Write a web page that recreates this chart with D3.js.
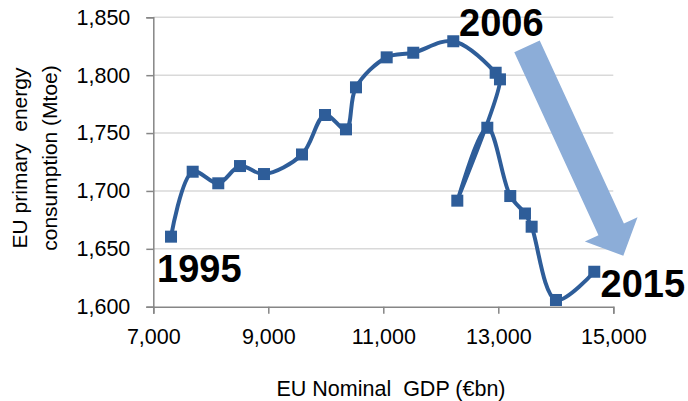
<!DOCTYPE html>
<html>
<head>
<meta charset="utf-8">
<script src="https://cdn.jsdelivr.net/npm/d3@7"></script>
<style>
  body { margin: 0; background: #fff; }
  text { font-family: "Liberation Sans", Arial, sans-serif; }
</style>
</head>
<body>
<div id="chart"></div>
<script>
// EU nominal GDP (€bn) vs primary energy consumption (Mtoe), 1995-2015
const years = [1995, 1996, 1997, 1998, 1999, 2000, 2001, 2002, 2003, 2004, 2005,
  2006, 2007, 2008, 2009, 2010, 2011, 2012, 2013, 2014, 2015];
const gdp = [7308, 7685, 8130, 8508, 8925, 9586, 9986, 10351, 10525, 11059, 11521,
  12217, 12954, 13029, 12287, 12809, 13208, 13464, 13580, 14003, 14669];
const energy = [1660.5, 1716.6, 1706.6, 1721.5, 1714.6, 1731.5, 1765.6, 1753.2, 1789.5, 1815.4, 1819.4,
  1829.3, 1802.1, 1796.4, 1691.6, 1754.6, 1695.6, 1680.5, 1669.1, 1605.8, 1630.2];

const xTicks = [7000, 9000, 11000, 13000, 15000];
const yTicks = [1600, 1650, 1700, 1750, 1800, 1850];

// arrow start / end in data units
const arrowFrom = [13499, 1824.9];
const arrowTo = [15174, 1644];

const width = 688, height = 401;
const margin = { top: 17.3, left: 153.3 };
const plotW = 460, plotH = 289.4;

const svg = d3.select("#chart")
  .append("svg")
  .attr("width", width)
  .attr("height", height);

const x = d3.scaleLinear().domain([7000, 15000]).range([margin.left, margin.left + plotW]);
const y = d3.scaleLinear().domain([1600, 1850]).range([margin.top + plotH, margin.top]);

// gridlines
svg.append("g")
  .selectAll("line")
  .data(yTicks.slice(1))
  .join("line")
  .attr("x1", x(7000))
  .attr("x2", x(15000))
  .attr("y1", d => y(d))
  .attr("y2", d => y(d))
  .style("stroke", "#d9d9d9")
  .style("stroke-width", 1.5);

// y axis
const yAxis = svg.append("g")
  .attr("transform", `translate(${x(7000)},0)`)
  .call(d3.axisLeft(y).tickValues(yTicks).tickSize(7).tickPadding(16).tickFormat(d3.format(",")));

// x axis
const xAxis = svg.append("g")
  .attr("transform", `translate(0,${y(1600)})`)
  .call(d3.axisBottom(x).tickValues(xTicks).tickSize(7).tickPadding(15).tickFormat(d3.format(",")));

[yAxis, xAxis].forEach(g => {
  g.select(".domain").style("stroke", "#868686").style("stroke-width", 1.5);
  g.selectAll(".tick line").style("stroke", "#868686").style("stroke-width", 1.5);
  g.selectAll(".tick text")
    .style("font-family", '"Liberation Sans", Arial, sans-serif')
    .style("font-size", "21.5px")
    .style("fill", "#000");
});

// arrow
const ax0 = x(arrowFrom[0]), ay0 = y(arrowFrom[1]);
const ax1 = x(arrowTo[0]), ay1 = y(arrowTo[1]);
const len = Math.hypot(ax1 - ax0, ay1 - ay0);
const ux = (ax1 - ax0) / len, uy = (ay1 - ay0) / len;
const nx = -uy, ny = ux;
const shaftHalf = 14, headHalf = 29, headLen = 29;
const neckX = ax1 - ux * headLen, neckY = ay1 - uy * headLen;
const arrowPts = [
  [ax0 + nx * shaftHalf, ay0 + ny * shaftHalf],
  [neckX + nx * shaftHalf, neckY + ny * shaftHalf],
  [neckX + nx * headHalf, neckY + ny * headHalf],
  [ax1, ay1],
  [neckX - nx * headHalf, neckY - ny * headHalf],
  [neckX - nx * shaftHalf, neckY - ny * shaftHalf],
  [ax0 - nx * shaftHalf, ay0 - ny * shaftHalf]
];
svg.append("polygon")
  .attr("points", arrowPts.map(p => p.join(",")).join(" "))
  .style("fill", "#8cadd8");

// line
const points = years.map((yr, i) => ({ year: yr, gdp: gdp[i], energy: energy[i] }));

const line = d3.line()
  .x(d => x(d.gdp))
  .y(d => y(d.energy))
  .curve(d3.curveCatmullRom.alpha(0.5));

svg.append("path")
  .datum(points)
  .attr("d", line)
  .style("fill", "none")
  .style("stroke", "#2e5d99")
  .style("stroke-width", 4)
  .style("stroke-linejoin", "round");

const ms = 12;
svg.append("g")
  .selectAll("rect")
  .data(points)
  .join("rect")
  .attr("x", d => x(d.gdp) - ms / 2)
  .attr("y", d => y(d.energy) - ms / 2)
  .attr("width", ms)
  .attr("height", ms)
  .style("fill", "#2e5d99");

// year labels
const labels = [
  { text: "1995", x: 157, y: 281.7 },
  { text: "2006", x: 459, y: 36 },
  { text: "2015", x: 600.5, y: 296.7 }
];
svg.append("g")
  .selectAll("text")
  .data(labels)
  .join("text")
  .attr("x", d => d.x)
  .attr("y", d => d.y)
  .text(d => d.text)
  .style("font-size", "38px")
  .style("font-weight", "bold")
  .style("fill", "#000");

// axis titles
svg.append("text")
  .attr("x", 391)
  .attr("y", 396)
  .attr("text-anchor", "middle")
  .style("font-size", "21.5px")
  .style("white-space", "pre")
  .text("EU Nominal  GDP (€bn)");

const yTitle = svg.append("text")
  .attr("transform", "translate(0,158) rotate(-90)")
  .attr("text-anchor", "middle")
  .style("font-size", "21px")
  .style("white-space", "pre");
yTitle.append("tspan").attr("x", 0).attr("y", 27).text("EU primary  energy");
yTitle.append("tspan").attr("x", 0).attr("y", 57).text("consumption (Mtoe)");
</script>
</body>
</html>
